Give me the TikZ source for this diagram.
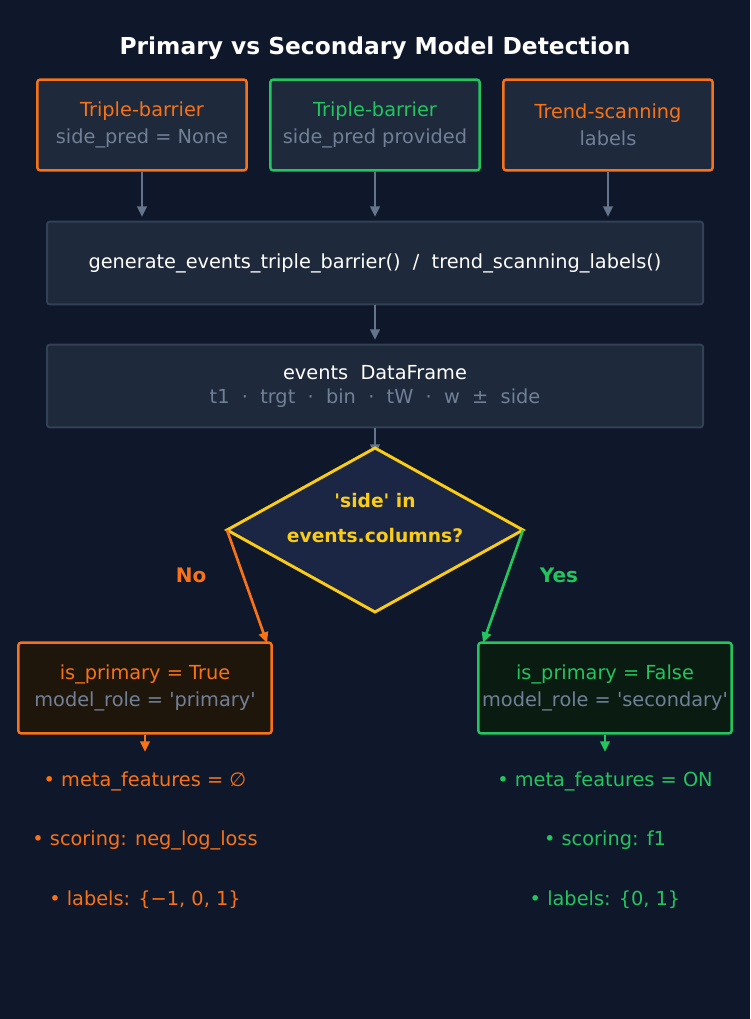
\documentclass[tikz,border=0pt]{standalone}
\usepackage{fontspec}
\setmainfont{DejaVu Sans}[Ligatures=NoCommon]
\usetikzlibrary{arrows.meta,shapes.geometric}
\definecolor{bg}{HTML}{0F172A}
\definecolor{boxf}{HTML}{1E293B}
\definecolor{boxb}{HTML}{334155}
\definecolor{org}{HTML}{F97316}
\definecolor{grn}{HTML}{22C55E}
\definecolor{gtx}{HTML}{718096}
\definecolor{ylw}{HTML}{FACC15}
\definecolor{dfill}{HTML}{1B2644}
\definecolor{lfill}{HTML}{1F160B}
\definecolor{rfill}{HTML}{0A1B12}
\definecolor{arr}{HTML}{64748B}
\newcommand{\sq}{\textquotesingle}
\begin{document}
\begin{tikzpicture}[x=0.75pt,y=-0.75pt,
 box/.style={draw,rounded corners=2pt,line width=1.8pt,fill=boxf,minimum height=68pt,align=center,font=\fontsize{14.5}{20}\selectfont,inner sep=0pt},
 wide/.style={draw=boxb,rounded corners=2pt,line width=1.5pt,fill=boxf,minimum width=492pt,minimum height=62pt,align=center,font=\fontsize{14.5}{18}\selectfont,text=white},
 ar/.style={-{Triangle[length=8pt,width=7pt]},line width=2pt,draw=arr},
 bul/.style={font=\fontsize{14.5}{17}\selectfont}]
\fill[bg] (0,0) rectangle (750,1019);
\useasboundingbox (0,0) rectangle (750,1019);
\node[text=white,font=\bfseries\fontsize{17.5}{20}\selectfont] (title) at (375,48) {Primary vs Secondary Model Detection};
\node[box,draw=org,minimum width=157pt] (b1) at (142,125) {\textcolor{org}{Triple-barrier}\\\textcolor{gtx}{side\_pred = None}};
\node[box,draw=grn,minimum width=157pt] (b2) at (375,125) {\textcolor{grn}{Triple-barrier}\\\textcolor{gtx}{side\_pred provided}};
\node[box,draw=org,minimum width=157pt] (b3) at (608,125) {\textcolor{org}{Trend-scanning}\\\textcolor{gtx}{labels}};
\node[wide] (gen) at (375,263) {generate\_events\_triple\_barrier()\ \ /\ \ trend\_scanning\_labels()};
\node[wide] (ev) at (375,386) {events\ \ DataFrame\\\textcolor{gtx}{t1\ \ ·\ \ trgt\ \ ·\ \ bin\ \ ·\ \ tW\ \ ·\ \ w\ \ ±\ \ side}};
\coordinate (gt1) at (142,217); \coordinate (gt2) at (375,217); \coordinate (gt3) at (608,217);
\draw[ar] (b1) -- (gt1); \draw[ar] (b2) -- (gt2); \draw[ar] (b3) -- (gt3);
\coordinate (evt) at (375,340);
\draw[ar] (gen) -- (evt);
\coordinate (dT) at (375,448); \coordinate (dL) at (227,530); \coordinate (dR) at (523,530); \coordinate (dB) at (375,612);
\draw[ar] (ev) -- (375,455);
\draw[draw=ylw,fill=dfill,line width=2.2pt,line join=miter] (dT) -- (dR) -- (dB) -- (dL) -- cycle;
\node[text=ylw,font=\bfseries\fontsize{14}{16}\selectfont] (d1) at (375,501) {\sq side\sq\ in};
\node[text=ylw,font=\bfseries\fontsize{14}{16}\selectfont] (d2) at (375,536) {events.columns?};
\node[box,draw=org,fill=lfill,minimum width=190pt] (l) at (145,688) {\textcolor{org}{is\_primary = True}\\\textcolor{gtx}{model\_role = \sq primary\sq}};
\node[box,draw=grn,fill=rfill,minimum width=190pt] (r) at (605,688) {\textcolor{grn}{is\_primary = False}\\\textcolor{gtx}{model\_role = \sq secondary\sq}};
\draw[ar,draw=org] (dL) -- (267,643);
\draw[ar,draw=grn] (dR) -- (483,643);
\node[text=org,font=\bfseries\fontsize{15}{17}\selectfont] (no) at (191,575) {No};
\node[text=grn,font=\bfseries\fontsize{15}{17}\selectfont] (yes) at (559,575) {Yes};
\coordinate (la) at (145,752); \coordinate (ra) at (605,752);
\draw[ar,draw=org] (l) -- (la); \draw[ar,draw=grn] (r) -- (ra);
\node[bul,text=org] (l1) at (145,781) {• meta\_features = ∅};
\node[bul,text=org] (l2) at (145,840) {• scoring: neg\_log\_loss};
\node[bul,text=org] (l3) at (145,900) {• labels: \{−1, 0, 1\}};
\node[bul,text=grn] (r1) at (605,781) {• meta\_features = ON};
\node[bul,text=grn] (r2) at (605,840) {• scoring: f1};
\node[bul,text=grn] (r3) at (605,900) {• labels: \{0, 1\}};
\end{tikzpicture}
\end{document}
